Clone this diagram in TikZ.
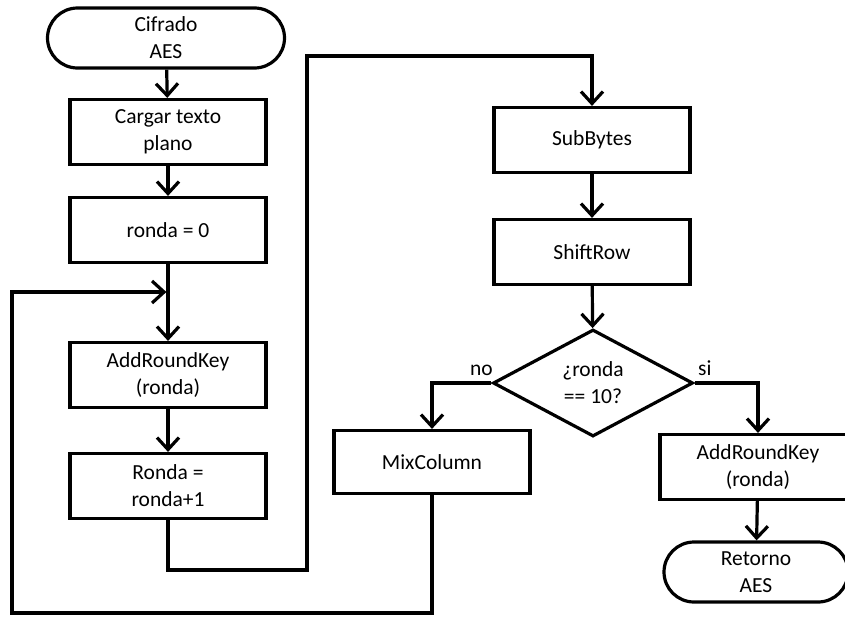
\documentclass[tikz,border=0pt]{standalone}
\usepackage{fontspec}
\setmainfont{Carlito}
\usetikzlibrary{arrows.meta,shapes.misc,shapes.geometric}

\tikzset{
  caja/.style={draw,line width=3.2pt,minimum width=196pt,minimum height=65pt,
    align=center,inner sep=0pt},
  terminal/.style={draw,rounded rectangle,line width=3.2pt,minimum height=60pt,
    align=center,inner sep=0pt},
  decision/.style={draw,diamond,aspect=1.87,line width=3.2pt,minimum width=200pt,
    minimum height=107pt,align=center,inner sep=0pt},
  flecha/.style={line width=3.2pt,-{Straight Barb[length=12pt,width=22pt]}},
  etiqueta/.style={inner sep=0pt,yshift=6pt}
}

\begin{document}
\begin{tikzpicture}[line join=miter,x=1pt,y=-1pt,
  every node/.style={font=\fontsize{21.5}{27}\selectfont}]
  \useasboundingbox (0,0) rectangle (845,616);
  % columna izquierda
  \node[terminal,minimum width=237pt] (inicio) at (166,38) {Cifrado\\AES};
  \node[caja] (cargar) at (168,132) {Cargar texto\\plano};
  \node[caja] (ronda0) at (168,230) {ronda = 0};
  \node[caja] (ark) at (168,375) {AddRoundKey\\(ronda)};
  \node[caja] (incr) at (168,486) {Ronda =\\ronda+1};
  \coordinate (entrada) at (168,292);
  % columna derecha
  \node[caja] (subb) at (592,140) {SubBytes};
  \node[caja] (shift) at (592,252) {ShiftRow};
  \node[decision] (test) at (593,383) {¿ronda\\== 10?};
  \node[caja,minimum height=63pt] (mix) at (432,462) {MixColumn};
  \node[caja] (arkfin) at (758,467) {AddRoundKey\\(ronda)};
  \node[terminal,minimum width=184pt] (fin) at (756,572) {Retorno\\AES};

  \draw[flecha] (inicio) -- (cargar);
  \draw[flecha] (cargar) -- (ronda0);
  \draw[flecha] (ronda0) -- (ark);
  \draw[flecha] (ark) -- (incr);
  \draw[flecha] (incr.south) |- (307,570) -- (307,56) -| (subb.north);
  \draw[flecha] (subb) -- (shift);
  \draw[flecha] (shift) -- (test);
  \draw[flecha] (test.west) node[etiqueta,anchor=south east,xshift=3pt] {no}
    -| (mix.north);
  \draw[flecha] (test.east) node[etiqueta,anchor=south west,xshift=2pt] {si}
    -| (arkfin.north);
  \draw[flecha] (arkfin) -- (fin);
  % vuelta a AddRoundKey
  \draw[flecha,shorten >=1.6pt] (mix.south) |- (12,613) |- (entrada);
\end{tikzpicture}
\end{document}
